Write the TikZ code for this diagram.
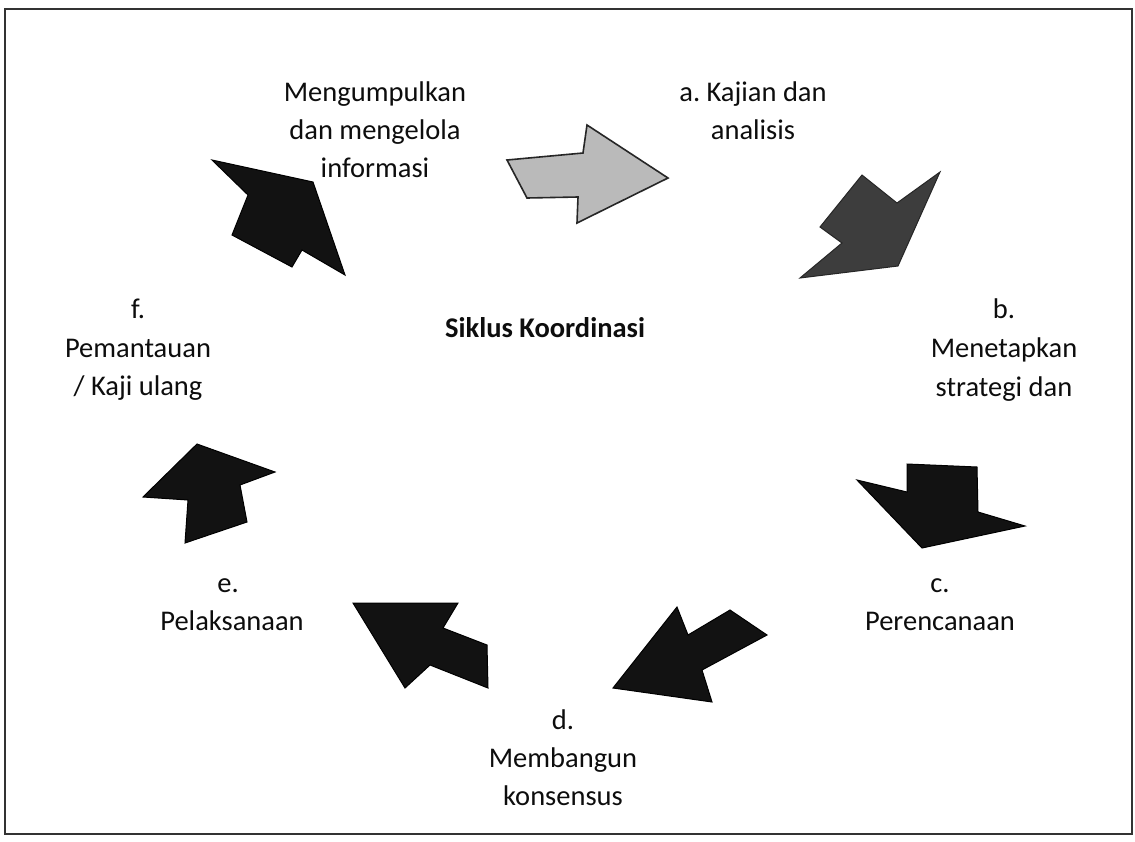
\documentclass[tikz,border=0pt]{standalone}
\usepackage{fontspec}
\setmainfont{Carlito}
\frenchspacing
\begin{document}
\begin{tikzpicture}[x=1pt,y=-1pt,
  lbl/.style={font=\fontsize{28.5}{34}\selectfont, anchor=base, inner sep=0pt, text=black!95},
  ttl/.style={font=\fontsize{28.5}{34}\selectfont\bfseries, anchor=base, inner sep=0pt, text=black!95},
  arrlight/.style={fill=black!27, draw=black!85, line width=1.6pt, line join=miter},
  arrmid/.style={fill=black!76, draw=black!85, line width=1pt, line join=miter},
  arrdark/.style={fill=black!93, draw=black, line width=1pt, line join=miter},
  frame/.style={draw=black!80, line width=2pt}]
\useasboundingbox (0,0) rectangle (1135,841);
\fill[white] (0,0) rectangle (1135,841);
\draw[frame] (5,9) rectangle (1132,834);

% arrows
\draw[arrlight] (507,160) -- (583,153) -- (587,125) -- (668,178) -- (577,223) -- (578,197) -- (527,198) -- cycle;
\draw[arrmid] (862,175) -- (897,203) -- (940,172) -- (898,266) -- (800,278) -- (842,243) -- (820,227) -- cycle;
\draw[arrdark] (857,480) -- (907,492) -- (907,464) -- (977,467) -- (978,512) -- (1025,526) -- (922,548) -- cycle;
\draw[arrdark] (677,607) -- (688,635) -- (730,610) -- (767,635) -- (702,670) -- (712,702) -- (613,688) -- cycle;
\draw[arrdark] (353,603) -- (458,603) -- (443,628) -- (487,645) -- (488,688) -- (430,665) -- (405,688) -- cycle;
\draw[arrdark] (143,497) -- (197,444) -- (275,472) -- (240,485) -- (247,522) -- (185,543) -- (188,500) -- cycle;
\draw[arrdark] (212,160) -- (313,182) -- (345,275) -- (302,250) -- (292,267) -- (232,235) -- (248,195) -- cycle;

% labels
\node[lbl] (m1) at (375,101) {Mengumpulkan};
\node[lbl] (m2) at (375,139) {dan mengelola};
\node[lbl] (m3) at (375,177) {informasi};

\node[lbl] (a1) at (753,101) {a. Kajian dan};
\node[lbl] (a2) at (753,139) {analisis};

\node[lbl] (b1) at (1004,318) {b.};
\node[lbl] (b2) at (1004,357) {Menetapkan};
\node[lbl] (b3) at (1004,396) {strategi dan};

\node[ttl] (t) at (545,337) {Siklus Koordinasi};

\node[lbl] (f1) at (138,318) {f.};
\node[lbl] (f2) at (138,357) {Pemantauan};
\node[lbl] (f3) at (138,395) {/ Kaji ulang};

\node[lbl] (c1) at (940,592) {c.};
\node[lbl] (c2) at (940,630) {Perencanaan};

\node[lbl] (d1) at (563,729) {d.};
\node[lbl] (d2) at (563,767) {Membangun};
\node[lbl] (d3) at (563,805) {konsensus};

\node[lbl] (e1) at (228,592) {e.};
\node[lbl] (e2) at (232,630) {Pelaksanaan};
\end{tikzpicture}
\end{document}
